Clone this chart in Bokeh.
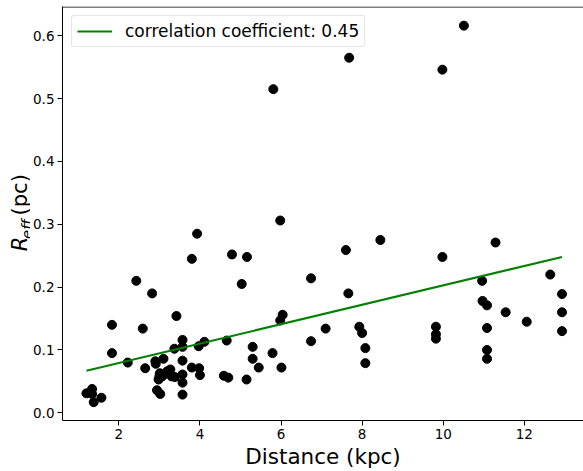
from math import pi
from bokeh.plotting import figure
from bokeh.layouts import row
from bokeh.models import Range1d, FixedTicker, Span, Legend, LegendItem, PrintfTickFormatter, Label
from bokeh.embed import file_html
from bokeh.resources import INLINE

distance_kpc = [1.20, 1.34, 1.34, 1.38, 1.57, 1.83, 1.83, 2.22, 2.43, 2.59,
                2.65, 2.82, 2.90, 2.91, 2.94, 2.98, 3.00, 3.01, 3.02, 3.07,
                3.10, 3.19, 3.27, 3.30, 3.37, 3.38, 3.42, 3.57, 3.57, 3.57,
                3.57, 3.57, 3.57, 3.80, 3.80, 3.93, 3.97, 3.98, 4.00, 4.11,
                4.59, 4.66, 4.70, 4.79, 5.03, 5.15, 5.16, 5.30, 5.30, 5.45,
                5.79, 5.81, 5.98, 5.98, 6.01, 6.04, 6.74, 6.74, 7.10, 7.60,
                7.66, 7.68, 7.93, 8.00, 8.08, 8.08, 8.45, 9.82, 9.82, 9.82,
                9.98, 9.98, 10.51, 10.96, 10.97, 11.08, 11.08, 11.08, 11.08, 11.29,
                11.54, 12.06, 12.64, 12.93, 12.93, 12.93]
r_eff_pc = [0.031, 0.038, 0.030, 0.017, 0.024, 0.140, 0.095, 0.080, 0.210, 0.134,
            0.071, 0.190, 0.082, 0.078, 0.036, 0.053, 0.058, 0.063, 0.030, 0.058,
            0.086, 0.066, 0.069, 0.058, 0.102, 0.057, 0.154, 0.116, 0.105, 0.083,
            0.061, 0.048, 0.029, 0.245, 0.072, 0.285, 0.106, 0.071, 0.060, 0.113,
            0.059, 0.115, 0.056, 0.252, 0.205, 0.053, 0.248, 0.105, 0.086, 0.072,
            0.095, 0.515, 0.306, 0.147, 0.072, 0.156, 0.214, 0.114, 0.134, 0.259,
            0.190, 0.565, 0.137, 0.127, 0.103, 0.079, 0.275, 0.137, 0.125, 0.118,
            0.248, 0.546, 0.616, 0.210, 0.178, 0.171, 0.135, 0.100, 0.086, 0.271,
            0.160, 0.145, 0.220, 0.189, 0.160, 0.130]

fit_x = [1.20, 12.93]
fit_y = [0.067, 0.248]
legend_text = "correlation coefficient: 0.45"
x_ticks = [2, 4, 6, 8, 10, 12]
y_ticks = [0.0, 0.1, 0.2, 0.3, 0.4, 0.5, 0.6]
x_title = "Distance (kpc)"
y_title_main = "R"
y_title_sub = "eff"
y_title_unit = "(pc)"

FONT = "DejaVu Sans"
W, H = 583, 471
LAB_W = 30

# ---- narrow panel carrying the y-axis title (R with subscript "eff") ----
lab = figure(width=LAB_W, height=H, output_backend="svg", toolbar_location=None, title=None,
             x_range=Range1d(0, LAB_W), y_range=Range1d(H, 0),
             x_axis_location=None, y_axis_location=None,
             min_border_left=0, min_border_right=0, min_border_top=0, min_border_bottom=0)
lab.outline_line_color = None
lab.grid.visible = False
lab.background_fill_color = "white"
lab.border_fill_color = "white"
lab_common = dict(angle=pi / 2, text_align="center", text_baseline="middle",
                  text_font=FONT, text_color="black")
lab.add_layout(Label(x=19.7, y=270.2, text=y_title_main, text_font_style="italic",
                     text_font_size="21px", **lab_common))
lab.add_layout(Label(x=25.9, y=253.2, text=y_title_sub, text_font_style="italic",
                     text_font_size="14.7px", **lab_common))
lab.add_layout(Label(x=19.7, y=214.2, text=y_title_unit,
                     text_font_size="21px", **lab_common))

# ---- main plot ----
X0, X1 = 0.61, 13.46
Y0, Y1 = -0.0122, 0.6465

p = figure(width=W - LAB_W, height=H, output_backend="svg", toolbar_location=None,
           x_range=Range1d(X0, X1), y_range=Range1d(Y0, Y1),
           min_border_left=62 - LAB_W, min_border_right=0, min_border_top=6, min_border_bottom=50)
p.outline_line_color = None
p.grid.visible = False
p.background_fill_color = "white"
p.border_fill_color = "white"

for ax in (p.xaxis[0], p.yaxis[0]):
    ax.axis_line_color = "black"
    ax.axis_line_width = 1
    ax.major_tick_line_color = "black"
    ax.major_tick_out = 5
    ax.major_tick_in = 0
    ax.minor_tick_out = 0
    ax.minor_tick_in = 0
    ax.major_label_text_font = FONT
    ax.major_label_text_font_size = "13.5px"
    ax.major_label_text_color = "black"
    ax.major_label_standoff = 3
p.xaxis.ticker = FixedTicker(ticks=x_ticks)
p.yaxis.ticker = FixedTicker(ticks=y_ticks)
p.yaxis.formatter = PrintfTickFormatter(format="%.1f")
p.xaxis.axis_label = x_title
p.xaxis.axis_label_text_font = FONT
p.xaxis.axis_label_text_font_size = "21.5px"
p.xaxis.axis_label_text_font_style = "normal"
p.xaxis.axis_label_text_color = "black"
p.xaxis.axis_label_standoff = 2

p.add_layout(Span(location=Y1 - 0.0008, dimension="width", line_color="black", line_width=1))

p.scatter(distance_kpc, r_eff_pc, size=9, color="black", line_color="black")
fit = p.line(fit_x, fit_y, line_color="#008000", line_width=2)

legend = Legend(items=[LegendItem(label=legend_text, renderers=[fit])],
                location="top_left", margin=9, padding=5, spacing=0,
                glyph_width=35, glyph_height=20, label_standoff=13, label_height=20,
                label_text_font=FONT, label_text_font_size="17px", label_text_color="black",
                border_line_color="#cccccc", border_line_width=1,
                background_fill_color="white", background_fill_alpha=0.8)
if "border_radius" in Legend.properties():
    legend.border_radius = 3
p.add_layout(legend)

layout = row(lab, p, spacing=0)
open("out.html", "w").write(file_html(layout, INLINE))
